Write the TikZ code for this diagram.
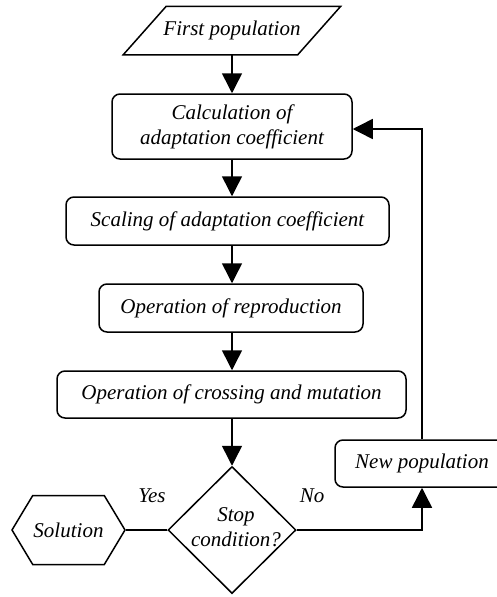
\documentclass[tikz,border=0pt]{standalone}
\usepackage{fontspec}
\setmainfont{Liberation Serif}
\usetikzlibrary{arrows.meta,shapes.geometric,shapes.symbols}
\definecolor{ink}{HTML}{000000}
\tikzset{
  basebox/.style={draw=ink,line width=1.5pt,fill=white,align=center,inner sep=0pt,
    font=\fontsize{21}{25}\selectfont\itshape,text=ink},
  stepbox/.style={basebox,rounded corners=8pt},
  iobox/.style={basebox,draw=none,fill=none,minimum width=173pt,minimum height=47pt},
  endbox/.style={basebox,signal,signal to=west and east,signal pointer angle=118,
    minimum width=113pt,minimum height=69pt},
  decision/.style={basebox,diamond,minimum width=128pt,minimum height=127pt},
  tag/.style={font=\fontsize{21}{25}\selectfont\itshape,text=ink,inner sep=0pt},
  arrow/.style={-{Triangle[length=20pt,width=20pt]},line width=1.5pt,draw=ink},
  plainline/.style={line width=1.5pt,draw=ink}
}

\begin{document}
\begin{tikzpicture}[x=1pt,y=-1pt]
    \useasboundingbox (0,0) rectangle (497,597);
    \clip (0,0) rectangle (497,597);

    \node[iobox] (first) at (232,30.5) {First population};
    \draw[plainline,line join=miter] ([xshift=-21.5pt]first.south west) -- ([xshift=-21.5pt]first.south east)
      -- ([xshift=21.5pt]first.north east) -- ([xshift=21.5pt]first.north west) -- cycle;
    \node[stepbox,minimum width=240pt,minimum height=65pt] (calc) at (232,126.5) {Calculation of\\adaptation coefficient};
    \node[stepbox,minimum width=323pt,minimum height=48pt] (scale) at (227.5,221) {Scaling of adaptation coefficient};
    \node[stepbox,minimum width=264pt,minimum height=48pt] (repro) at (231,308) {Operation of reproduction};
    \node[stepbox,minimum width=349pt,minimum height=47pt] (cross) at (231.5,394.5) {Operation of crossing and mutation};
    \node[decision,label={[tag,align=center,xshift=4pt,yshift=3pt]center:Stop\\condition?}] (stop) at (232,530) {};
    \node[endbox] (sol) at (68.5,530) {Solution};
    \node[stepbox,minimum width=174pt,minimum height=47pt] (newpop) at (422,463.5) {New population};

    \node[tag] (yes) at (152,496) {Yes};
    \node[tag] (no) at (312,496) {No};

    \draw[arrow] (first.south) -- (calc.north);
    \draw[arrow] (calc.south) -- (calc.south |- scale.north);
    \draw[arrow] (calc.south |- scale.south) -- (calc.south |- repro.north);
    \draw[arrow] (calc.south |- repro.south) -- (calc.south |- cross.north);
    \draw[arrow] (calc.south |- cross.south) -- (stop.north);
    \draw[plainline] (stop.west) -- (sol.east);
    \draw[arrow] (stop.east) -| (newpop.south);
    \draw[arrow] (newpop.north) |- ([yshift=-2.5pt]calc.east);
  \end{tikzpicture}
\end{document}
